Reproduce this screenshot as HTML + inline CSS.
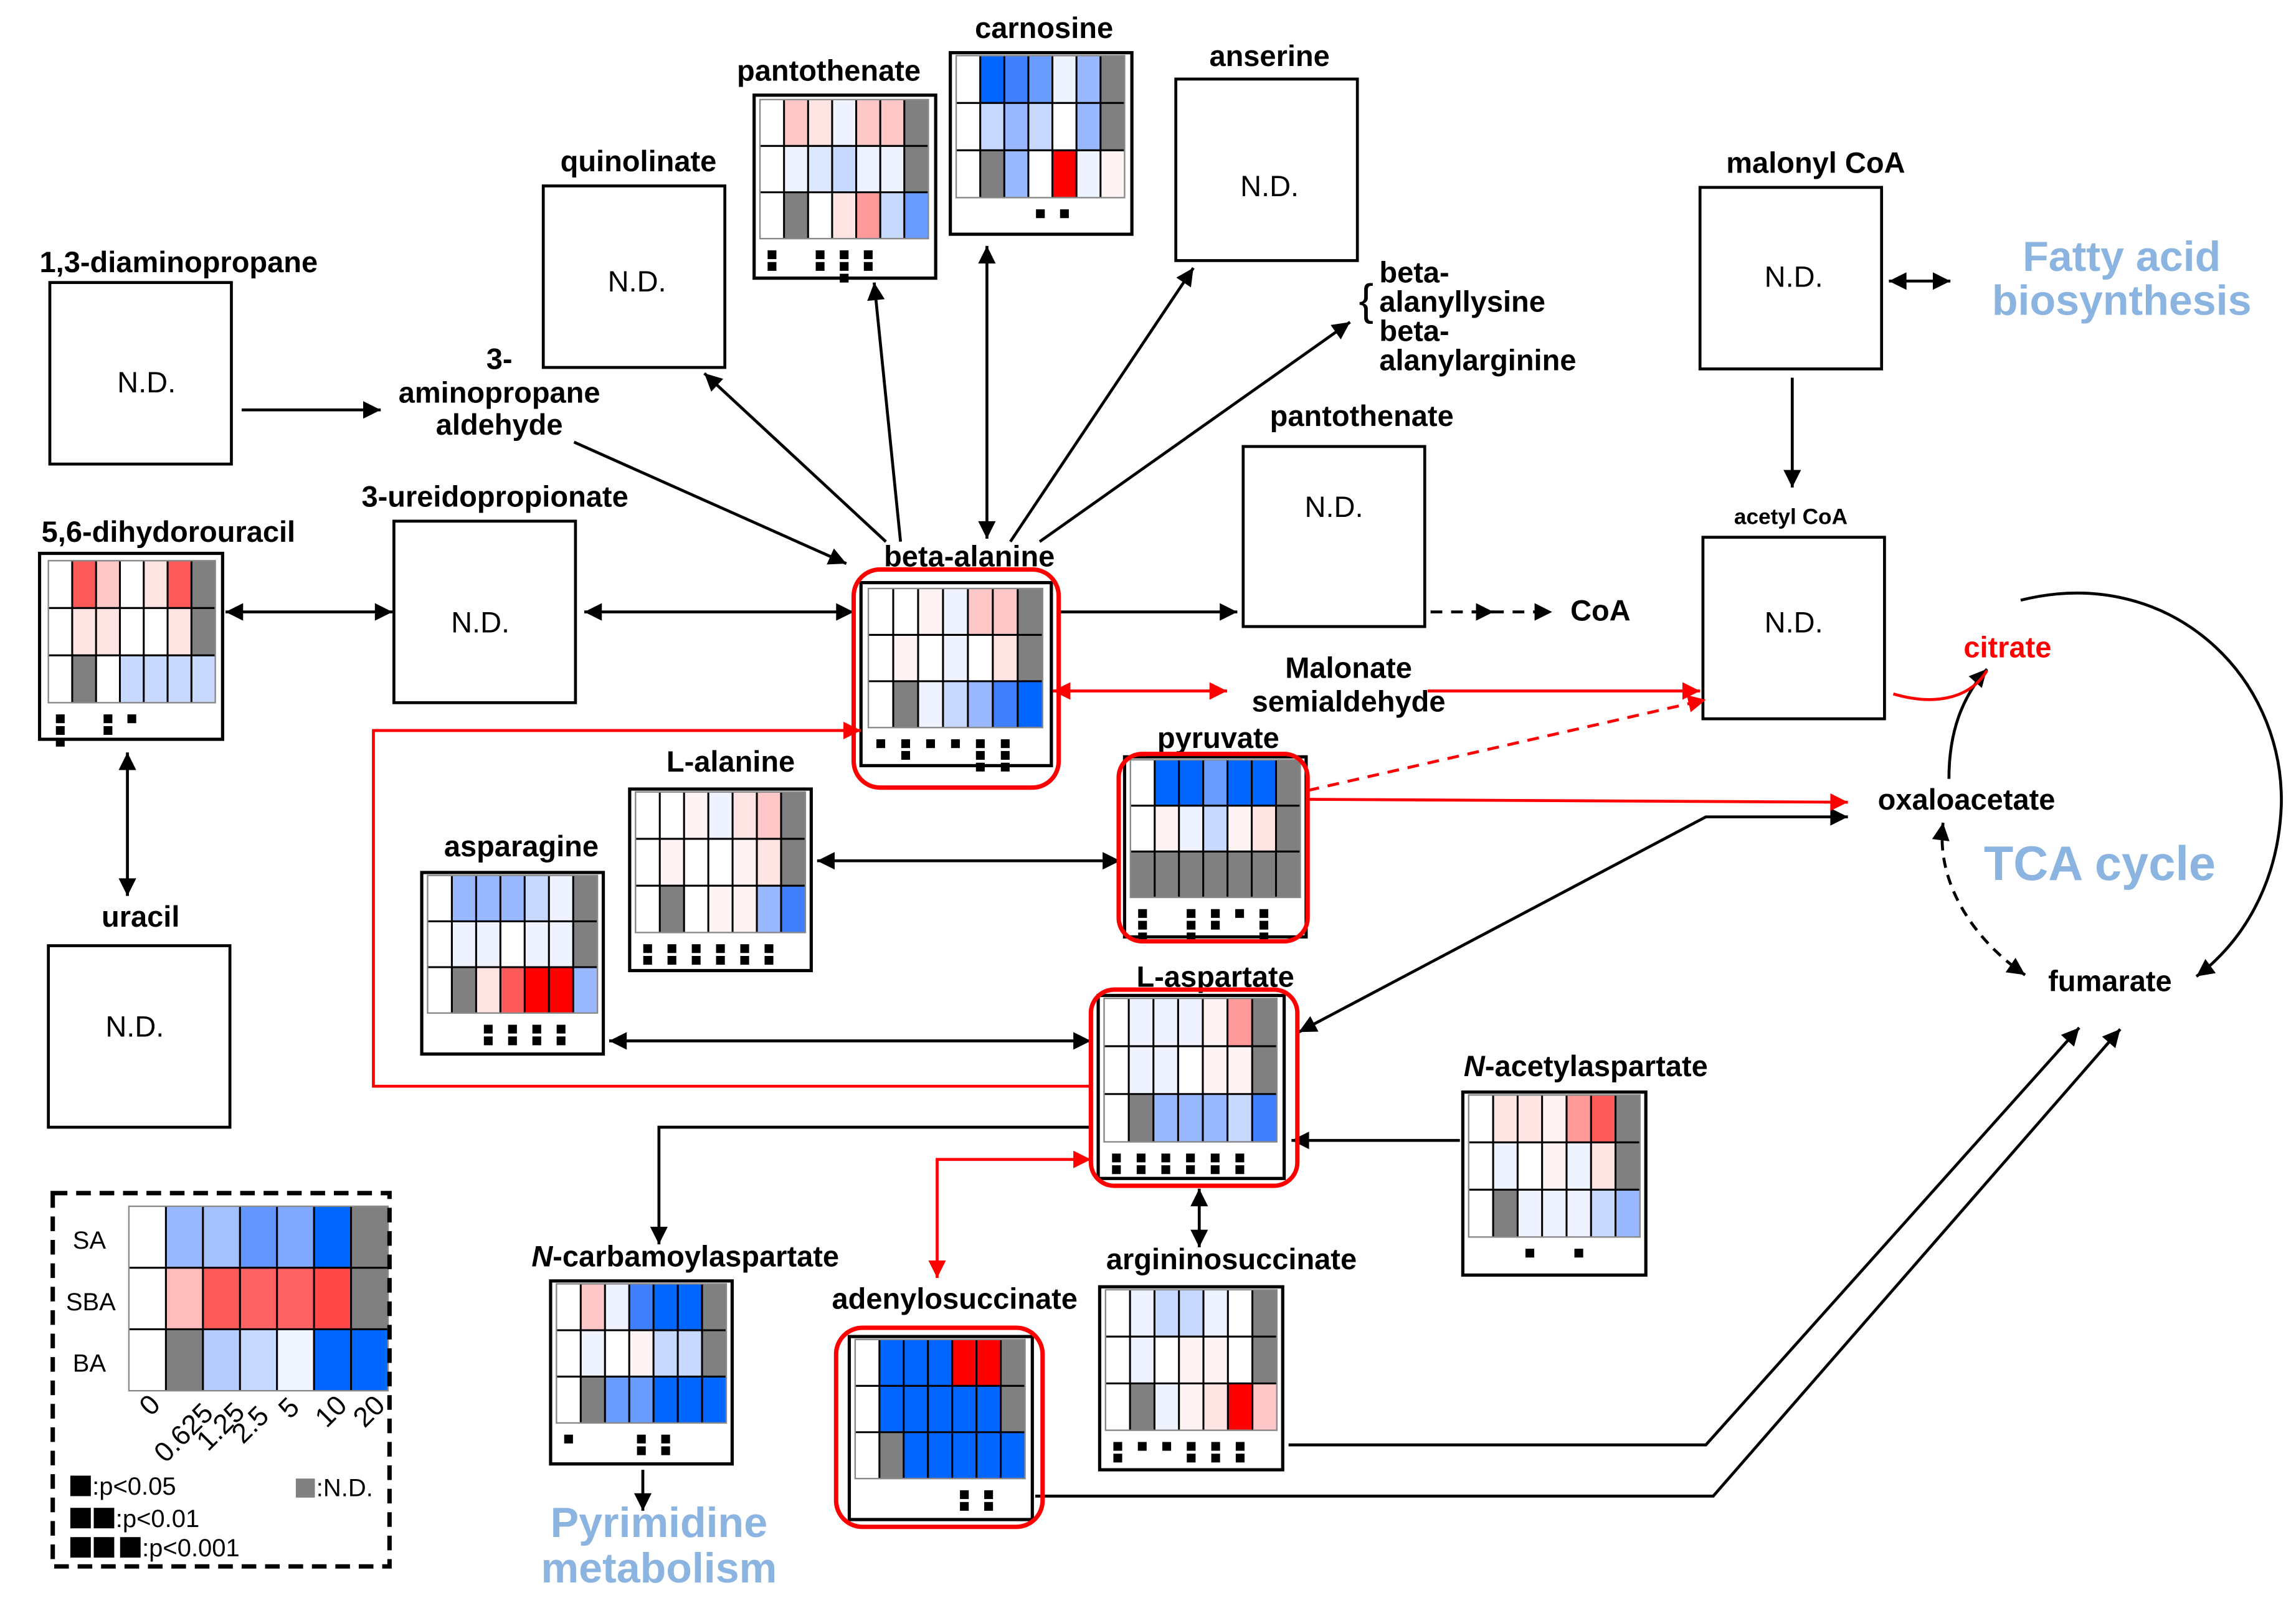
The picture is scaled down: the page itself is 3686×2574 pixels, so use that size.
<!DOCTYPE html>
<html><head><meta charset="utf-8">
<style>
html,body{margin:0;padding:0;background:#fff;}
svg{display:block;}
text{font-family:"Liberation Sans",Arial,sans-serif;}
.lb{font-weight:bold;font-size:20px;fill:#000;text-anchor:middle;}
.nd{font-size:20px;fill:#000;text-anchor:middle;}
.bl{font-weight:bold;fill:#8cb4e0;text-anchor:middle;}
</style></head>
<body>
<svg id="s" width="3686" height="2574" viewBox="0 0 1568 1095" xmlns="http://www.w3.org/2000/svg">
<defs>
<marker id="a" viewBox="0 0 10 10" refX="10" refY="5" markerWidth="14" markerHeight="12" markerUnits="userSpaceOnUse" orient="auto-start-reverse"><path d="M0,0L10,5L0,10z" fill="#000"/></marker>
<marker id="r" viewBox="0 0 10 10" refX="10" refY="5" markerWidth="14" markerHeight="12" markerUnits="userSpaceOnUse" orient="auto-start-reverse"><path d="M0,0L10,5L0,10z" fill="#f00"/></marker>
</defs>
<rect width="1568" height="1095" fill="#fff"/>
<g id="hm"></g>

<g fill="#fff" stroke="#000" stroke-width="2">
<rect x="34" y="193" width="124" height="124"/>
<rect x="371" y="127" width="124" height="124"/>
<rect x="803" y="54" width="124" height="124"/>
<rect x="1161" y="128" width="124" height="124"/>
<rect x="849" y="305" width="124" height="123"/>
<rect x="269" y="356" width="124" height="124"/>
<rect x="1163" y="367" width="124" height="124"/>
<rect x="33" y="646" width="124" height="124"/>
</g>
<g class="nd">
<text class="nd" x="100" y="268">N.D.</text>
<text class="nd" x="435" y="199">N.D.</text>
<text class="nd" x="867" y="134">N.D.</text>
<text class="nd" x="1225" y="196">N.D.</text>
<text class="nd" x="911" y="353">N.D.</text>
<text class="nd" x="328" y="432">N.D.</text>
<text class="nd" x="1225" y="432">N.D.</text>
<text class="nd" x="92" y="708">N.D.</text>
</g>

<text class="lb" x="122" y="186">1,3-diaminopropane</text>
<text class="lb" x="436" y="117">quinolinate</text>
<text class="lb" x="566" y="55">pantothenate</text>
<text class="lb" x="713" y="26">carnosine</text>
<text class="lb" x="867" y="45">anserine</text>
<text class="lb" x="1240" y="118">malonyl CoA</text>
<text class="lb" x="930" y="291">pantothenate</text>
<text class="lb" x="341" y="252">3-</text>
<text class="lb" x="341" y="275">aminopropane</text>
<text class="lb" x="341" y="297">aldehyde</text>
<text class="lb" x="338" y="346">3-ureidopropionate</text>
<text class="lb" x="115" y="370">5,6-dihydorouracil</text>
<text class="lb" x="662" y="387">beta-alanine</text>
<text class="lb" x="921" y="463">Malonate</text>
<text class="lb" x="921" y="486">semialdehyde</text>
<text class="lb" x="832" y="511">pyruvate</text>
<text class="lb" x="499" y="527">L-alanine</text>
<text class="lb" x="356" y="585">asparagine</text>
<text class="lb" x="96" y="633">uracil</text>
<text class="lb" x="830" y="674">L-aspartate</text>
<text class="lb" x="1083" y="735"><tspan font-style="italic">N</tspan>-acetylaspartate</text>
<text class="lb" x="468" y="865"><tspan font-style="italic">N</tspan>-carbamoylaspartate</text>
<text class="lb" x="841" y="867">argininosuccinate</text>
<text class="lb" x="652" y="894">adenylosuccinate</text>
<text class="lb" x="1093" y="424">CoA</text>
<text class="lb" x="1343" y="553">oxaloacetate</text>
<text class="lb" x="1441" y="677">fumarate</text>
<text class="lb" x="1371" y="449" style="fill:#f00">citrate</text>
<text class="lb" x="1223" y="358" style="font-size:15px">acetyl CoA</text>
<text x="942" y="193" style="font-weight:bold;font-size:20px">beta-</text>
<text x="942" y="213" style="font-weight:bold;font-size:20px">alanyllysine</text>
<text x="942" y="233" style="font-weight:bold;font-size:20px">beta-</text>
<text x="942" y="253" style="font-weight:bold;font-size:20px">alanylarginine</text>
<text x="928" y="215" style="font-size:30px">{</text>
<text class="bl" x="1449" y="185" font-size="29">Fatty acid</text>
<text class="bl" x="1449" y="215" font-size="29">biosynthesis</text>
<text class="bl" x="1434" y="601" font-size="33">TCA cycle</text>
<text class="bl" x="450" y="1050" font-size="29">Pyrimidine</text>
<text class="bl" x="450" y="1081" font-size="29">metabolism</text>

<g stroke="#000" stroke-width="2" fill="none">
<line x1="165" y1="280" x2="260" y2="280" marker-end="url(#a)"/>
<line x1="392" y1="302" x2="578" y2="385" marker-end="url(#a)"/>
<line x1="154" y1="418" x2="268" y2="418" marker-start="url(#a)" marker-end="url(#a)"/>
<line x1="399" y1="418" x2="583" y2="418" marker-start="url(#a)" marker-end="url(#a)"/>
<line x1="87" y1="514" x2="87" y2="612" marker-start="url(#a)" marker-end="url(#a)"/>
<line x1="605" y1="370" x2="481" y2="255" marker-end="url(#a)"/>
<line x1="615" y1="370" x2="597" y2="193" marker-end="url(#a)"/>
<line x1="674" y1="168" x2="674" y2="368" marker-start="url(#a)" marker-end="url(#a)"/>
<line x1="690" y1="370" x2="815" y2="183" marker-end="url(#a)"/>
<line x1="710" y1="370" x2="922" y2="220" marker-end="url(#a)"/>
<line x1="723" y1="418" x2="845" y2="418" marker-end="url(#a)"/>
<line x1="977" y1="418" x2="1060" y2="418" stroke-dasharray="8,6" marker-end="url(#a)"/>
<line x1="1005" y1="418" x2="1020" y2="418" marker-end="url(#a)"/>
<line x1="558" y1="588" x2="765" y2="588" marker-start="url(#a)" marker-end="url(#a)"/>
<line x1="416" y1="711" x2="745" y2="711" marker-start="url(#a)" marker-end="url(#a)"/>
<polyline points="887,705 1165,558 1262,558" marker-start="url(#a)" marker-end="url(#a)"/>
<line x1="997" y1="779" x2="882" y2="779" marker-end="url(#a)"/>
<polyline points="745,770 450,770 450,850" marker-end="url(#a)"/>
<line x1="819" y1="812" x2="819" y2="852" marker-start="url(#a)" marker-end="url(#a)"/>
<polyline points="880,987 1165,987 1420,702" marker-end="url(#a)"/>
<polyline points="707,1022 1170,1022 1448,703" marker-end="url(#a)"/>
<line x1="439" y1="1004" x2="439" y2="1032" marker-end="url(#a)"/>
<line x1="1224" y1="258" x2="1224" y2="333" marker-end="url(#a)"/>
<line x1="1290" y1="192" x2="1332" y2="192" marker-start="url(#a)" marker-end="url(#a)"/>
<path d="M1380,410 C1480,385 1560,460 1558,550 C1556,605 1530,645 1500,667" marker-end="url(#a)"/>
<path d="M1331,532 C1331,500 1340,476 1357,457" marker-end="url(#a)"/>
<path d="M1327,562 C1322,600 1345,640 1383,666" stroke-dasharray="7,5" marker-start="url(#a)" marker-end="url(#a)"/>
</g>

<g stroke="#f00" stroke-width="2" fill="none">
<line x1="719" y1="472" x2="838" y2="472" marker-start="url(#r)" marker-end="url(#r)"/>
<line x1="975" y1="472" x2="1161" y2="472" marker-end="url(#r)"/>
<line x1="893" y1="540" x2="1165" y2="478" stroke-dasharray="8,6" marker-end="url(#r)"/>
<line x1="893" y1="546" x2="1262" y2="548" marker-end="url(#r)"/>
<path d="M1293,474 C1320,482 1345,478 1357,458"/>
<polyline points="745,742 255,742 255,499 588,499" marker-end="url(#r)"/>
<polyline points="745,792 640,792 640,873" marker-start="url(#r)" marker-end="url(#r)"/>
</g>
<g fill="none" stroke="#f00" stroke-width="3">
<rect x="583" y="389" width="140" height="149" rx="18"/>
<rect x="764" y="515" width="129" height="128" rx="16"/>
<rect x="745" y="676" width="141" height="134" rx="16"/>
<rect x="571" y="907" width="141" height="136" rx="18"/>
</g>

<rect x="36" y="815" width="230" height="255" fill="none" stroke="#000" stroke-width="3" stroke-dasharray="10,6"/>
<g font-size="17" text-anchor="middle">
<text x="61" y="853">SA</text><text x="62" y="895">SBA</text><text x="61" y="937">BA</text>
</g>
<g font-size="19">
<text transform="translate(103,968) rotate(-45)">0</text>
<text transform="translate(113,1000) rotate(-45)">0.625</text>
<text transform="translate(142,992) rotate(-45)">1.25</text>
<text transform="translate(166,987) rotate(-45)">2.5</text>
<text transform="translate(198,970) rotate(-45)">5</text>
<text transform="translate(223,976) rotate(-45)">10</text>
<text transform="translate(249,976) rotate(-45)">20</text>
</g>
<g fill="#000">
<rect x="48" y="1008" width="14" height="14"/>
<rect x="48" y="1030" width="14" height="14"/><rect x="64" y="1030" width="14" height="14"/>
<rect x="48" y="1050" width="14" height="14"/><rect x="64" y="1050" width="14" height="14"/><rect x="82" y="1050" width="14" height="14"/>
</g>
<rect x="202" y="1010" width="13" height="13" fill="#808080"/>
<g font-size="17">
<text x="63" y="1021">:p&lt;0.05</text>
<text x="79" y="1043">:p&lt;0.01</text>
<text x="97" y="1063">:p&lt;0.001</text>
<text x="216" y="1022">:N.D.</text>
</g>
</svg>
<script>
var C={W:'#ffffff',G:'#808080',B5:'#0066ff',B4:'#4080ff',B3:'#6a9bff',B2:'#9ab8ff',B1:'#c8d9ff',B0:'#eef3ff',
R5:'#ff0000',R4:'#ff5a5a',R3:'#ff9a9a',R2:'#ffc8c8',R1:'#ffe4e4',R0:'#fff3f3'};
function P(s){return s.split(' ').map(function(k){return C[k]||k;});}
var H=[
 [27,378,125,127,33,383,114,97,['W R4 R2 W R1 R4 G','W R1 R1 W W R1 G','W G W B1 B1 B1 B1'],[3,0,2,1,0,0,0]],
 [515,65,124,125,519,68,115,95,['W R2 R1 B0 R2 R2 G','W B0 #dde8ff B1 B0 B0 G','W G W R1 R3 B1 B3'],[2,0,2,3,2,0,0]],
 [649,36,124,124,653,38,115,97,['W B5 B4 B3 B0 B2 G','W B1 B2 B1 W B2 G','W G B2 W R5 B0 R0'],[0,0,0,1,1,0,0]],
 [588,398,130,125,593,402,119,95,['W W R0 B0 R2 R2 G','W R0 W B0 W R1 G','W G B0 B1 B2 B4 B5'],[1,2,1,1,3,3,0]],
 [768,517,124,123,772,519,116,94,['W B5 B5 B3 B5 B5 G','W R0 B0 B1 R0 R1 G','G G G G G G G'],[3,0,3,2,1,3,0]],
 [430,539,124,124,434,541,116,96,['W W R0 B0 R1 R2 G','W R0 W W R0 R1 G','W G W R0 R0 B2 B4'],[2,2,2,2,2,2,0]],
 [288,596,124,124,292,598,116,94,['W B2 B2 B2 B1 B0 G','W B0 B0 W B0 B0 G','W G R1 R4 R5 R5 B2'],[0,0,2,2,2,2,0]],
 [750,680,127,125,754,682,118,98,['W B0 B0 B0 R0 R3 G','W B0 B0 W R0 R0 G','W G B2 B2 B2 B1 B4'],[2,2,2,2,2,2,0]],
 [999,746,125,125,1003,748,117,97,['W R1 R1 R0 R3 R4 G','W B0 W R0 B0 R1 G','W G B0 B0 B0 B1 B2'],[0,0,1,0,1,0,0]],
 [376,875,124,125,380,877,116,95,['W R2 B0 B4 B5 B5 G','W B0 W R0 B1 B1 G','W G B3 B3 B5 B5 B5'],[1,0,0,2,2,0,0]],
 [751,879,125,125,755,881,117,96,['W B0 B1 B1 B0 W G','W B0 W R0 R0 W G','W G B0 R0 R1 R5 R2'],[2,1,1,2,2,2,0]],
 [580,913,125,125,584,915,116,95,['W B5 B5 B5 R5 R5 G','W B5 B5 B5 B5 B5 G','W G B5 B5 B5 B5 B5'],[0,0,0,0,2,2,0]],
 [null,0,0,0,88,824,177,126,['W #9ab8ff #a4c0ff #6496ff #80a8ff #0066ff G','W #ffbcbc #ff5a5a #ff6262 #ff6262 #ff4848 G','W G #b4ccff #c8daff #f0f5ff #0066ff #0066ff'],[0,0,0,0,0,0,0]]
];
var g=document.getElementById('hm'),out='';
H.forEach(function(h){
 if(h[0]!==null) out+='<rect x="'+h[0]+'" y="'+h[1]+'" width="'+h[2]+'" height="'+h[3]+'" fill="#fff" stroke="#000" stroke-width="2.2"/>';
 var gx=h[4],gy=h[5],gw=h[6],gh=h[7],cw=gw/7,rh=gh/3;
 h[8].forEach(function(row,i){P(row).forEach(function(c,j){
  out+='<rect x="'+(gx+j*cw)+'" y="'+(gy+i*rh)+'" width="'+cw+'" height="'+rh+'" fill="'+c+'"/>';});});
 for(var j=1;j<7;j++) out+='<line x1="'+(gx+j*cw)+'" y1="'+gy+'" x2="'+(gx+j*cw)+'" y2="'+(gy+gh)+'" stroke="#000" stroke-width="1.3"/>';
 for(var i=1;i<3;i++) out+='<line x1="'+gx+'" y1="'+(gy+i*rh)+'" x2="'+(gx+gw)+'" y2="'+(gy+i*rh)+'" stroke="#000" stroke-width="1.3"/>';
 out+='<rect x="'+gx+'" y="'+gy+'" width="'+gw+'" height="'+gh+'" fill="none" stroke="#888" stroke-width="1"/>';
 h[9].forEach(function(n,j){for(var k=0;k<n;k++){
  out+='<rect x="'+(gx+j*cw+cw/2-3)+'" y="'+(gy+gh+8+k*8)+'" width="6" height="6" fill="#000"/>';}});
});
g.innerHTML=out;
</script>
</body></html>
